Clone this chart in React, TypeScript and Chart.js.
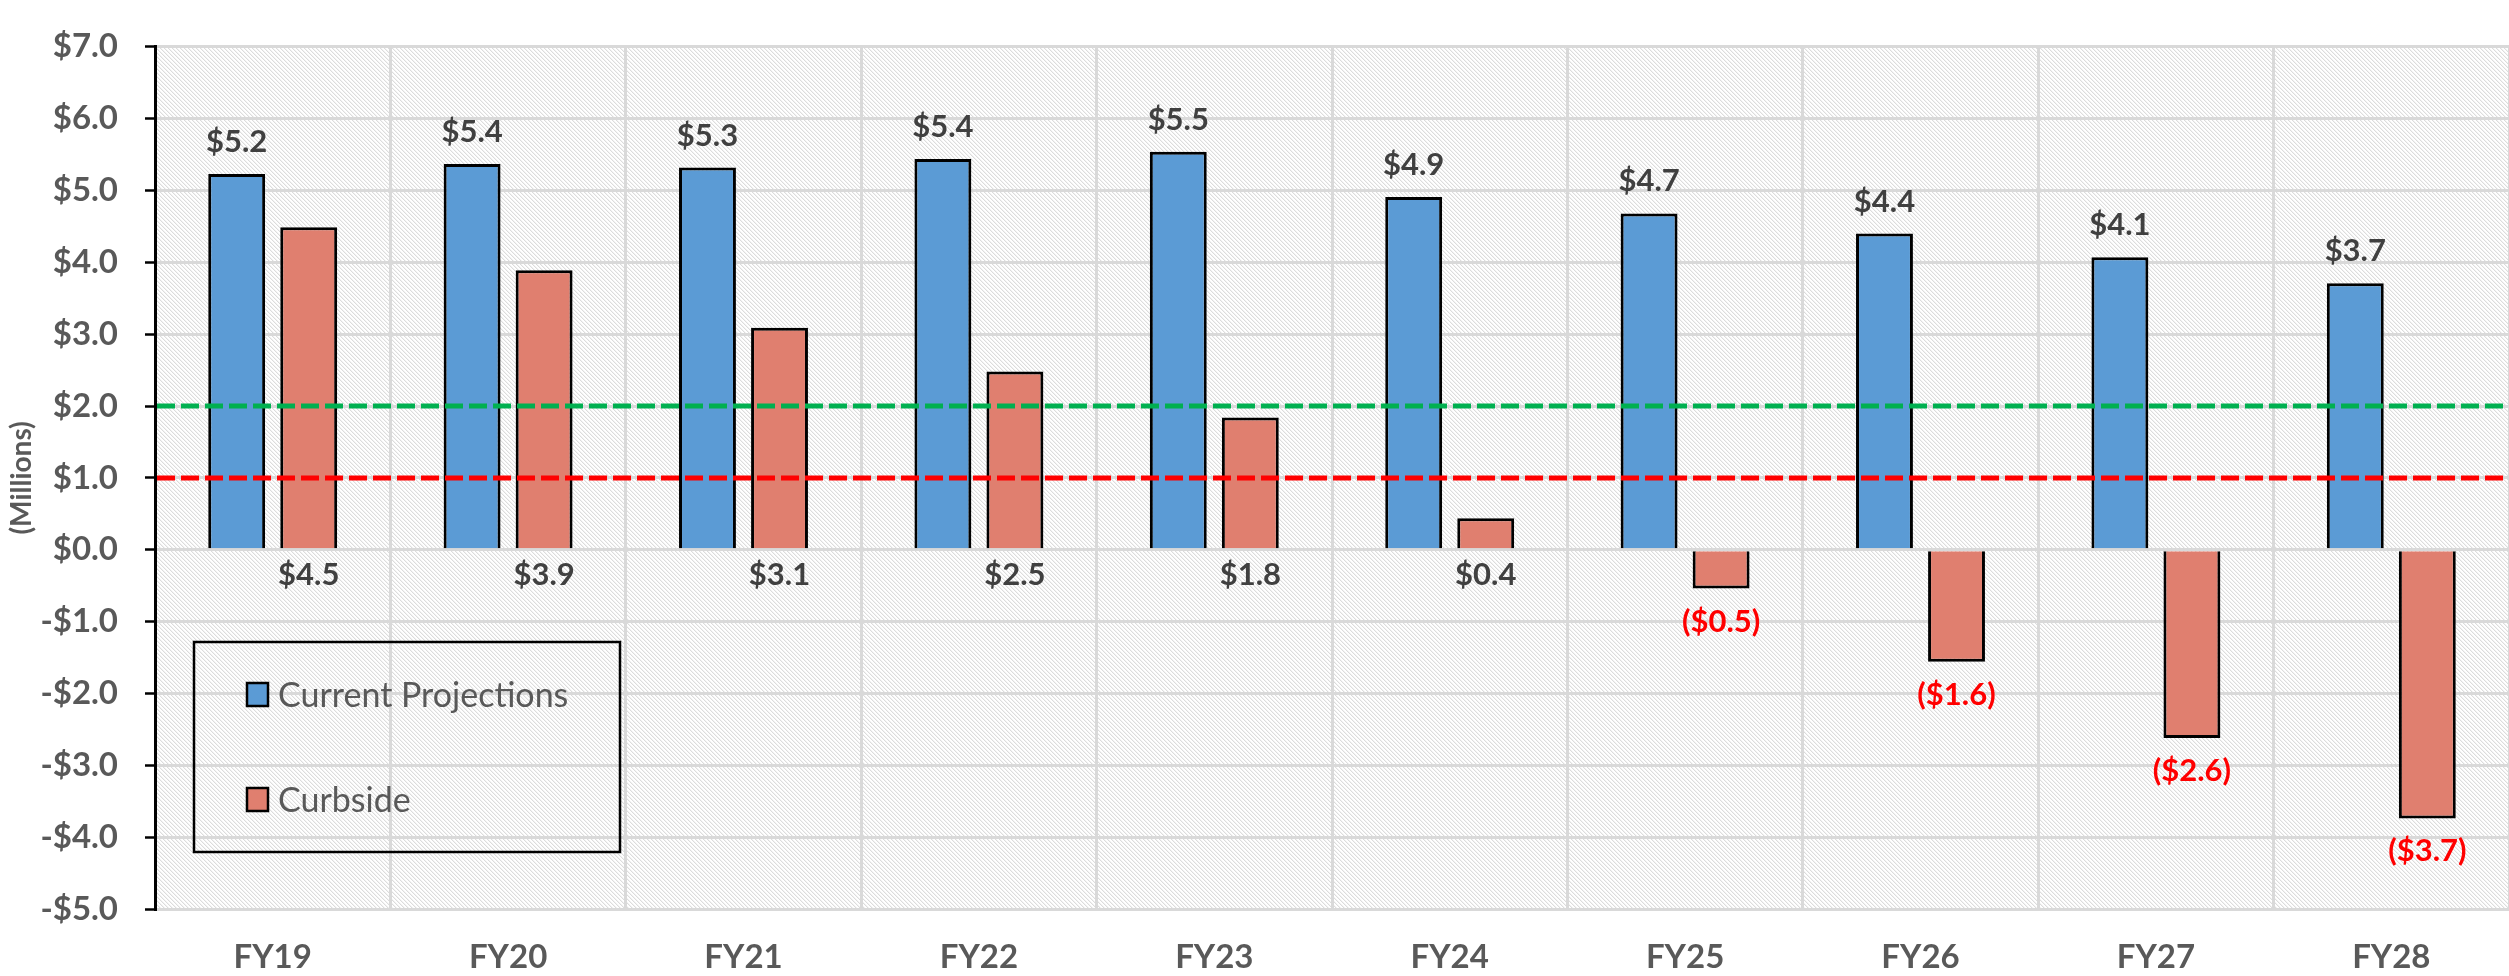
import React, { useEffect, useRef } from 'react';
import { Chart, registerables } from 'chart.js';

Chart.register(...registerables);

const categories = ['FY19', 'FY20', 'FY21', 'FY22', 'FY23', 'FY24', 'FY25', 'FY26', 'FY27', 'FY28'];
const currentProjections = [5.23, 5.37, 5.32, 5.44, 5.54, 4.91, 4.68, 4.4, 4.07, 3.71];
const curbside = [4.49, 3.89, 3.09, 2.48, 1.84, 0.44, -0.54, -1.56, -2.62, -3.74];
const seriesNames = ['Current Projections', 'Curbside'];
const seriesColors = ['#5B9BD5', '#E07F6F'];
const thresholdValues = [2.0, 1.0];
const thresholdColors = ['#00B050', '#FF0000'];
const yMin = -5;
const yMax = 7;
const yStep = 1;

const FONT = 'Lato, "Open Sans", sans-serif';

function fmtTick(v: number): string {
  return (v < 0 ? '-$' : '$') + Math.abs(v).toFixed(1);
}

export default function App() {
  const ref = useRef<HTMLCanvasElement>(null);

  useEffect(() => {
    const canvas = ref.current!;
    const ctx0 = canvas.getContext('2d')!;

    // hatched background pattern
    const pc = document.createElement('canvas');
    pc.width = 8;
    pc.height = 8;
    const pctx = pc.getContext('2d')!;
    const img = pctx.createImageData(8, 8);
    for (let y = 0; y < 8; y++) {
      for (let x = 0; x < 8; x++) {
        const d = (((x - y) % 4) + 4) % 4;
        let c = 255;
        if (d === 0) c = 220;
        else if (d === 1) c = 243;
        const i = (y * 8 + x) * 4;
        img.data[i] = c;
        img.data[i + 1] = c;
        img.data[i + 2] = c;
        img.data[i + 3] = 255;
      }
    }
    pctx.putImageData(img, 0, 0);
    const pattern = ctx0.createPattern(pc, 'repeat');

    const bgPlugin = {
      id: 'plotBg',
      beforeDraw(chart: any) {
        const { ctx, chartArea } = chart;
        ctx.save();
        ctx.fillStyle = pattern as any;
        ctx.fillRect(chartArea.left, chartArea.top, chartArea.right - chartArea.left, chartArea.bottom - chartArea.top);
        ctx.restore();
      },
    };

    const overlayPlugin = {
      id: 'overlay',
      afterDatasetsDraw(chart: any) {
        const { ctx, chartArea, scales } = chart;
        const yScale = scales.y;
        // threshold dashed lines
        ctx.save();
        thresholdValues.forEach((v, i) => {
          const py = yScale.getPixelForValue(v);
          ctx.beginPath();
          ctx.setLineDash([18, 6]);
          ctx.lineWidth = 5;
          ctx.strokeStyle = thresholdColors[i];
          ctx.moveTo(chartArea.left + 2, py);
          ctx.lineTo(chartArea.right, py);
          ctx.stroke();
        });
        ctx.restore();

        // data labels
        const zero = yScale.getPixelForValue(0);
        ctx.save();
        ctx.font = `bold 31px ${FONT}`;
        ctx.textAlign = 'center';
        ctx.textBaseline = 'alphabetic';
        chart.data.datasets.forEach((ds: any, di: number) => {
          const meta = chart.getDatasetMeta(di);
          meta.data.forEach((bar: any, i: number) => {
            const v = ds.data[i] as number;
            const txt = Math.abs(v).toFixed(1);
            if (di === 0) {
              ctx.fillStyle = '#404040';
              ctx.fillText('$' + txt, bar.x, bar.y - 22);
            } else if (v >= 0) {
              ctx.fillStyle = '#404040';
              ctx.fillText('$' + txt, bar.x, zero + 35);
            } else {
              ctx.fillStyle = '#FF0000';
              ctx.fillText('($' + txt + ')', bar.x, bar.y + 43);
            }
          });
        });
        ctx.restore();
      },
    };

    const legendPlugin = {
      id: 'boxLegend',
      afterDraw(chart: any) {
        const { ctx } = chart;
        ctx.save();
        ctx.lineWidth = 2.5;
        ctx.strokeStyle = '#000';
        ctx.strokeRect(194, 642, 426, 210);
        const rows = [683, 788];
        chart.data.datasets.forEach((ds: any, i: number) => {
          const top = rows[i];
          ctx.fillStyle = ds.backgroundColor;
          ctx.fillRect(247, top, 21, 23);
          ctx.lineWidth = 2.5;
          ctx.strokeStyle = '#000';
          ctx.strokeRect(247, top, 21, 23);
          ctx.fillStyle = '#595959';
          ctx.font = `34px ${FONT}`;
          ctx.textAlign = 'left';
          ctx.textBaseline = 'alphabetic';
          ctx.fillText(ds.label, 278, top + 24);
        });
        ctx.restore();
      },
    };

    const chart = new Chart(canvas, {
      type: 'bar',
      data: {
        labels: categories,
        datasets: [
          {
            label: seriesNames[0],
            data: currentProjections,
            backgroundColor: seriesColors[0],
            borderColor: '#000',
            borderWidth: 3,
            barPercentage: 0.79,
            categoryPercentage: 0.612,
          },
          {
            label: seriesNames[1],
            data: curbside,
            backgroundColor: seriesColors[1],
            borderColor: '#000',
            borderWidth: 3,
            barPercentage: 0.79,
            categoryPercentage: 0.612,
          },
        ],
      },
      options: {
        responsive: false,
        animation: false,
        devicePixelRatio: 1,
        layout: { padding: { top: 21, right: 0, left: 0, bottom: 0 } },
        plugins: {
          legend: { display: false },
          tooltip: { enabled: false },
        },
        scales: {
          x: {
            grid: { offset: true, color: '#d9d9d9', lineWidth: 3, drawTicks: false },
            border: { display: false },
            ticks: {
              color: '#595959',
              font: { family: FONT, size: 33, weight: 'bold' },
              padding: 29,
              maxRotation: 0,
              autoSkip: false,
            },
            afterFit: (s: any) => {
              s.height = 67;
            },
          },
          y: {
            min: yMin,
            max: yMax,
            ticks: {
              stepSize: yStep,
              color: '#595959',
              font: { family: FONT, size: 33, weight: 'bold' },
              padding: 27,
              callback: (v: any) => fmtTick(Number(v)),
            },
            grid: { color: '#d9d9d9', lineWidth: 3, tickColor: '#000', tickLength: 10, tickWidth: 2.5 },
            border: { color: '#000', width: 3 },
            title: {
              display: true,
              text: '(Millions)',
              color: '#595959',
              font: { family: FONT, size: 28, weight: 'bold' },
              padding: { top: 5, bottom: 0 },
            },
            afterFit: (s: any) => {
              s.width = 155;
            },
          },
        },
      } as any,
      plugins: [bgPlugin, overlayPlugin, legendPlugin],
    });

    return () => {
      chart.destroy();
    };
  }, []);

  return (
    <div style={{ position: 'absolute', left: 0, top: 0, width: 2509, height: 976, overflow: 'hidden', background: '#fff' }}>
      <canvas ref={ref} width={2509} height={976} style={{ display: 'block', width: 2509, height: 976 }} />
    </div>
  );
}
